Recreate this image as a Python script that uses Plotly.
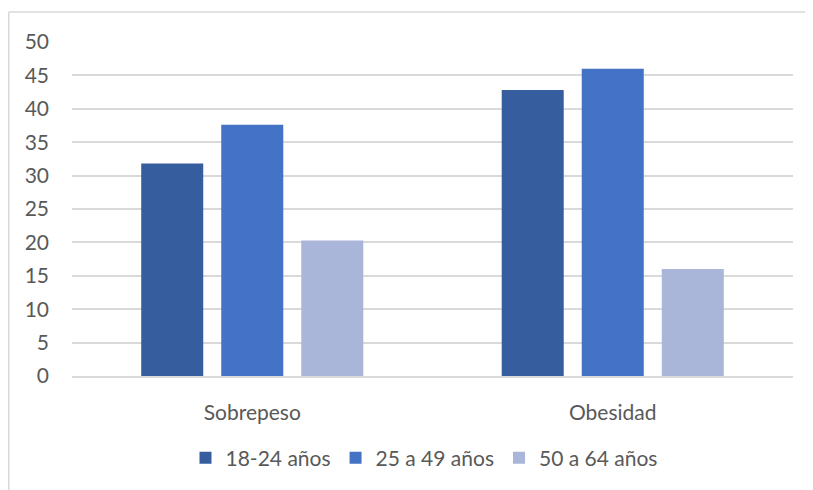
import plotly.graph_objects as go

categories = ["Sobrepeso", "Obesidad"]
series_names = ["18-24 años", "25 a 49 años", "50 a 64 años"]
vals_18_24 = [31.8, 42.8]
vals_25_49 = [37.6, 46.0]
vals_50_64 = [20.3, 16.0]
y_ticks = [0, 5, 10, 15, 20, 25, 30, 35, 40, 45, 50]

colors = ["#365E9F", "#4472C4", "#A9B5D9"]
FONT = "Lato"
TXT = "#595959"
FS = 21

fig = go.Figure()
for name, vals, c in zip(series_names, [vals_18_24, vals_25_49, vals_50_64], colors):
    fig.add_trace(go.Bar(x=categories, y=vals, name=name, marker=dict(color=c, line=dict(width=0))))

# page has an 8px body margin; figure sized to fit the viewport
OFF = 8
W, H = 813 - OFF, 490 - OFF
L, T = 72 - OFF, 42 - OFF
R = W - (793 - OFF)
B = H - (376 - OFF)
pw, ph = W - L - R, H - T - B

def px_x(p):
    return (p - OFF - L) / pw

def px_y(p):
    return (H - B - (p - OFF)) / ph

border = dict(color="#d9d9d9", width=1.5)
fig.update_layout(
    width=W, height=H,
    margin=dict(l=L, r=R, t=T, b=B, pad=0),
    paper_bgcolor="white", plot_bgcolor="white",
    barmode="group", bargap=0.334, bargroupgap=0.225,
    font=dict(family=FONT, size=FS, color=TXT),
    showlegend=True,
    legend=dict(orientation="h", x=px_x(424), xanchor="center",
                y=px_y(458), yanchor="middle",
                font=dict(family=FONT, size=FS, color=TXT),
                itemwidth=30, traceorder="normal"),
    xaxis=dict(showgrid=False, showline=True, linecolor="#d9d9d9", linewidth=1.5,
               ticks="", ticklabelstandoff=17, tickfont=dict(family=FONT, size=FS, color=TXT)),
    yaxis=dict(range=[0, 50], tickvals=y_ticks, showgrid=True, gridcolor="#d9d9d9", gridwidth=1.5,
               zeroline=False, showline=False, ticks="", ticklabelstandoff=22,
               tickfont=dict(family=FONT, size=FS, color=TXT)),
    shapes=[
        dict(type="line", xref="paper", yref="paper",
             x0=px_x(8.75), x1=px_x(813), y0=px_y(12), y1=px_y(12), line=border, layer="below"),
        dict(type="line", xref="paper", yref="paper",
             x0=px_x(8.75), x1=px_x(8.75), y0=px_y(12), y1=px_y(490), line=border, layer="below"),
    ],
)

fig.write_html("out.html")
